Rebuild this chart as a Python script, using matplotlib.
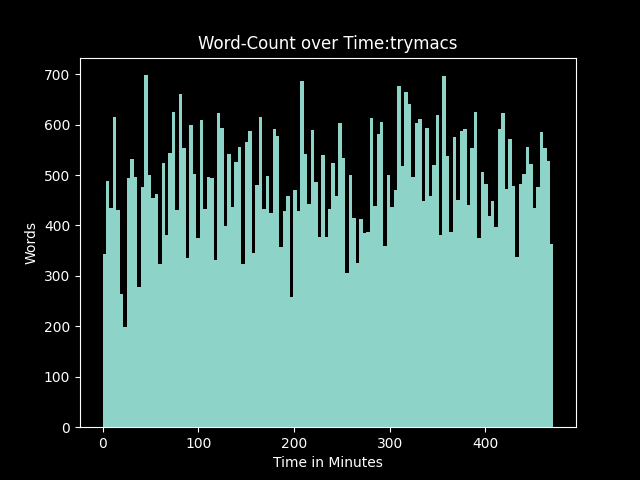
import matplotlib
matplotlib.use("Agg")
import matplotlib.pyplot as plt
import numpy as np

# words per time slot
words = [343, 488, 435, 615, 430, 264, 199, 494, 531, 496,
         278, 476, 698, 500, 455, 462, 324, 523, 381, 543,
         625, 430, 660, 553, 335, 599, 502, 375, 609, 433,
         496, 494, 331, 623, 593, 399, 541, 437, 525, 555,
         323, 565, 587, 346, 480, 615, 433, 498, 425, 591,
         577, 357, 428, 458, 258, 470, 428, 686, 541, 442,
         589, 486, 377, 539, 377, 433, 523, 459, 603, 533,
         306, 500, 415, 326, 412, 385, 387, 613, 439, 581,
         605, 360, 500, 437, 470, 676, 518, 664, 641, 496,
         603, 611, 448, 593, 458, 520, 619, 381, 696, 537,
         387, 575, 450, 587, 591, 440, 553, 625, 375, 506,
         482, 419, 448, 397, 591, 623, 473, 571, 478, 338,
         482, 502, 555, 522, 435, 476, 585, 553, 527, 363]

slot_minutes = 3.625
times = np.arange(len(words)) * slot_minutes

plt.style.use('dark_background')
fig, ax = plt.subplots(figsize=(6.4, 4.8), dpi=100)
ax.bar(times, words, width=slot_minutes, align='edge')
ax.set_title('Word-Count over Time:trymacs')
ax.set_xlabel('Time in Minutes')
ax.set_ylabel('Words')
fig.savefig('out.png')
